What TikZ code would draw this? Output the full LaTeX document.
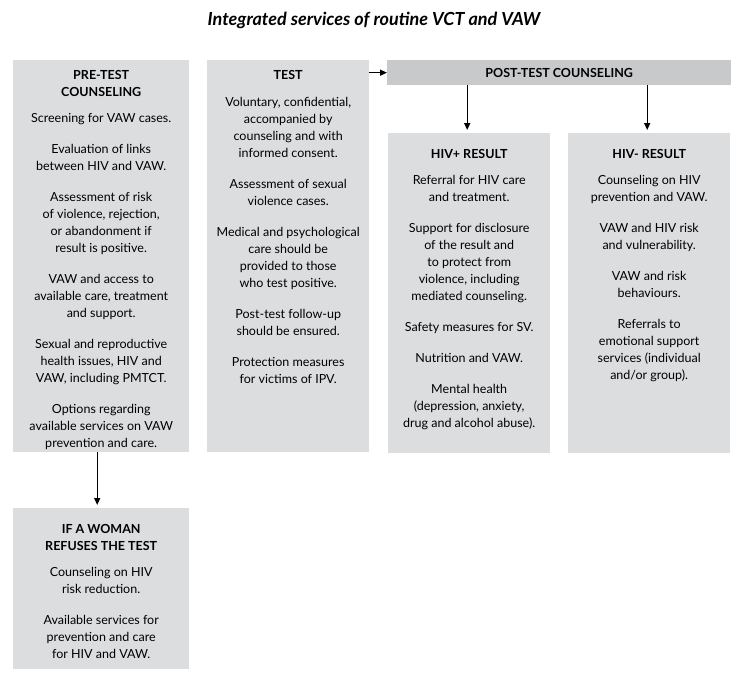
\documentclass[tikz,border=0pt]{standalone}
\usepackage{fontspec}
\setmainfont{Lato}
\usetikzlibrary{arrows.meta}
\definecolor{boxgray}{RGB}{220,221,223}
\definecolor{bargray}{RGB}{200,201,203}
\tikzset{
  box/.style={fill=boxgray, anchor=north west, inner sep=0pt},
  txt/.style={anchor=north, align=center, inner sep=0pt,
    font=\fontsize{12.5}{17}\selectfont},
  arr/.style={-{Triangle[length=7pt,width=6pt]}, line width=1.4pt, shorten >=3pt}
}
\begin{document}
\begin{tikzpicture}[x=1pt,y=-1pt]
  \useasboundingbox (0,0) rectangle (742,683);
  \node (title) at (374,20) {\fontsize{18}{21}\selectfont\bfseries\itshape Integrated services of routine VCT and VAW};
  % boxes
  \node[box, minimum width=176pt, minimum height=392pt] (pre) at (13,60) {};
  \node[box, minimum width=162pt, minimum height=392pt] (test) at (207,60) {};
  \node[box, fill=bargray, minimum width=344pt, minimum height=25pt] (post) at (387,60) {};
  \node[box, minimum width=162pt, minimum height=320pt] (hivp) at (388,133) {};
  \node[box, minimum width=162pt, minimum height=320pt] (hivn) at (568,133) {};
  \node[box, minimum width=176pt, minimum height=161pt] (refuse) at (13,508) {};
  % texts
  \node[txt] (pretxt) at ([yshift=-10pt]pre.north) {\textbf{PRE-TEST}\\\textbf{COUNSELING}\\[9pt]
    Screening for VAW cases.\\[14pt]
    Evaluation of links\\between HIV and VAW.\\[14pt]
    Assessment of risk\\of violence, rejection,\\or abandonment if\\result is positive.\\[14pt]
    VAW and access to\\available care, treatment\\and support.\\[14pt]
    Sexual and reproductive\\health issues, HIV and\\VAW, including PMTCT.\\[14pt]
    Options regarding\\available services on VAW\\prevention and care.};
  \node[txt] (testtxt) at ([yshift=-10pt]test.north) {\textbf{TEST}\\[10pt]
    Voluntary, confidential,\\accompanied by\\counseling and with\\informed consent.\\[14pt]
    Assessment of sexual\\violence cases.\\[14pt]
    Medical and psychological\\care should be\\provided to those\\who test positive.\\[14pt]
    Post-test follow-up\\should be ensured.\\[14pt]
    Protection measures\\for victims of IPV.};
  \node[font=\fontsize{12.5}{17}\selectfont\bfseries, inner sep=0pt] (posttxt) at (post.center) {POST-TEST COUNSELING};
  \node[txt] (hivptxt) at ([yshift=-16pt]hivp.north) {\textbf{HIV+ RESULT}\\[9pt]
    Referral for HIV care\\and treatment.\\[14pt]
    Support for disclosure\\of the result and\\to protect from\\violence, including\\mediated counseling.\\[14pt]
    Safety measures for SV.\\[14pt]
    Nutrition and VAW.\\[14pt]
    Mental health\\(depression, anxiety,\\drug and alcohol abuse).};
  \node[txt] (hivntxt) at ([yshift=-16pt]hivn.north) {\textbf{HIV- RESULT}\\[9pt]
    Counseling on HIV\\prevention and VAW.\\[14pt]
    VAW and HIV risk\\and vulnerability.\\[14pt]
    VAW and risk\\behaviours.\\[14pt]
    Referrals to\\emotional support\\services (individual\\and/or group).};
  \node[txt] (refusetxt) at ([yshift=-16pt]refuse.north) {\textbf{IF A WOMAN}\\\textbf{REFUSES THE TEST}\\[9pt]
    Counseling on HIV\\risk reduction.\\[14pt]
    Available services for\\prevention and care\\for HIV and VAW.};
  % arrows
  \draw[arr, shorten >=0pt] (post.west -| test.east) -- (post.west);
  \draw[arr] ([xshift=-2pt]post.south -| hivp.north) -- ([xshift=-2pt]hivp.north);
  \draw[arr] ([xshift=-2pt]post.south -| hivn.north) -- ([xshift=-2pt]hivn.north);
  \draw[arr] ([xshift=-4pt]pre.south) -- ([xshift=-4pt]refuse.north);
\end{tikzpicture}
\end{document}
